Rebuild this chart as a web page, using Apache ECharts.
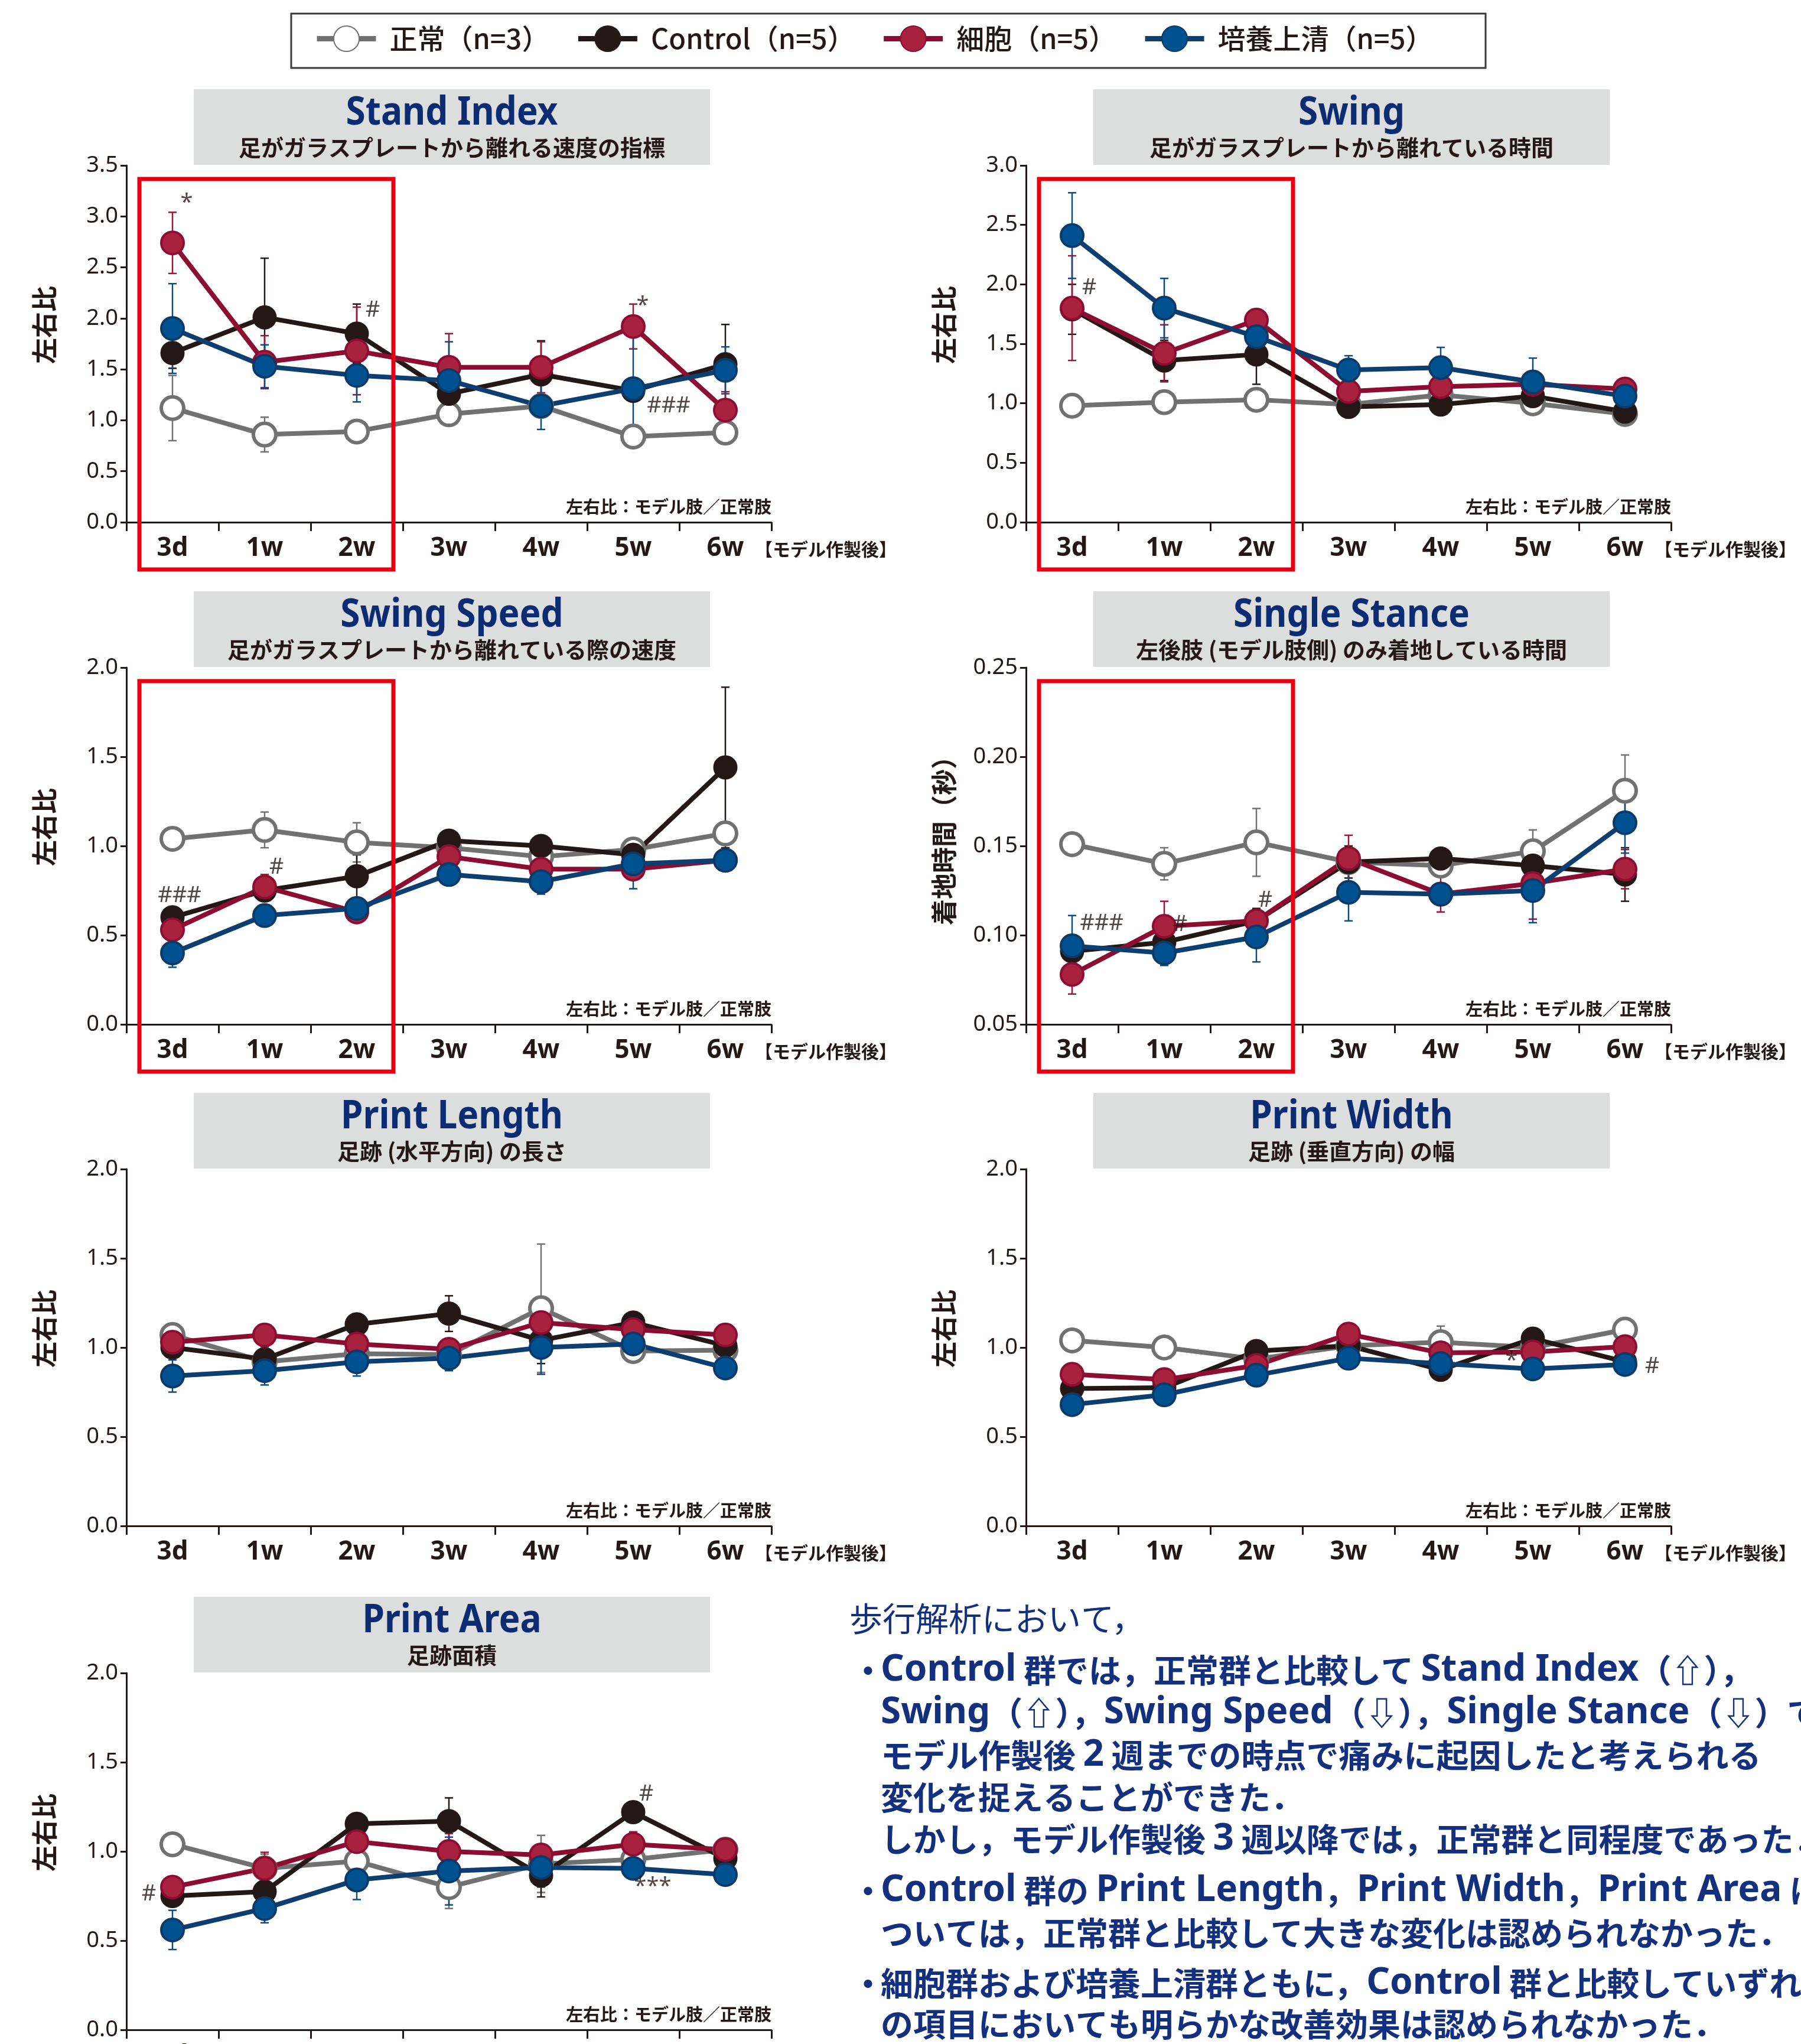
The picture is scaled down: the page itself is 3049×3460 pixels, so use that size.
<!DOCTYPE html>
<html><head><meta charset="utf-8">
<script src="https://cdn.jsdelivr.net/npm/echarts@6/dist/echarts.min.js"></script>
<style>html,body{margin:0;padding:0;background:#fff}#c{width:3049px;height:3460px}</style>
</head><body><div id="c"></div><script>
// ---------- data ----------
const categories = ['3d','1w','2w','3w','4w','5w','6w'];
const seriesNames = ['正常（n=3）','Control（n=5）','細胞（n=5）','培養上清（n=5）'];

// Stand Index
const siNormal = [1.12, 0.86, 0.89, 1.06, 1.14, 0.84, 0.88];
const siNormalSd = [0.32, 0.17, 0.03, 0.05, 0.03, 0.03, 0.03];
const siControl = [1.66, 2.01, 1.85, 1.26, 1.45, 1.29, 1.55];
const siControlSd = [0.15, 0.58, 0.29, 0.17, 0.33, 0.05, 0.39];
const siCell = [2.74, 1.57, 1.68, 1.52, 1.52, 1.92, 1.10];
const siCellSd = [0.30, 0.26, 0.43, 0.33, 0.25, 0.22, 0.18];
const siCulture = [1.90, 1.53, 1.44, 1.39, 1.14, 1.31, 1.49];
const siCultureSd = [0.44, 0.21, 0.26, 0.38, 0.23, 0.53, 0.23];
const siMarks = [[0, 3.13, '*'], [2, 2.08, '#'], [5, 2.12, '*'], [5, 1.14, '###']];

// Swing
const swNormal = [0.98, 1.01, 1.03, 0.99, 1.07, 1.00, 0.91];
const swNormalSd = [0.02, 0.05, 0.04, 0.02, 0.02, 0.09, 0.02];
const swControl = [1.79, 1.36, 1.41, 0.97, 0.99, 1.06, 0.93];
const swControlSd = [0.21, 0.17, 0.25, 0.03, 0.03, 0.05, 0.03];
const swCell = [1.80, 1.42, 1.70, 1.10, 1.14, 1.16, 1.12];
const swCellSd = [0.44, 0.24, 0.03, 0.03, 0.05, 0.03, 0.03];
const swCulture = [2.41, 1.80, 1.56, 1.28, 1.30, 1.18, 1.06];
const swCultureSd = [0.36, 0.25, 0.07, 0.12, 0.17, 0.20, 0.03];
const swMarks = [[0, 1.97, '#']];

// Swing Speed
const ssNormal = [1.04, 1.09, 1.02, 0.99, 0.94, 0.98, 1.07];
const ssNormalSd = [0.02, 0.10, 0.11, 0.02, 0.02, 0.05, 0.02];
const ssControl = [0.60, 0.75, 0.83, 1.03, 1.00, 0.95, 1.44];
const ssControlSd = [0.03, 0.06, 0.12, 0.05, 0.02, 0.07, 0.45];
const ssCell = [0.53, 0.77, 0.63, 0.94, 0.87, 0.87, 0.92];
const ssCellSd = [0.03, 0.07, 0.02, 0.02, 0.02, 0.03, 0.02];
const ssCulture = [0.40, 0.61, 0.65, 0.84, 0.80, 0.90, 0.92];
const ssCultureSd = [0.08, 0.06, 0.02, 0.03, 0.07, 0.14, 0.02];
const ssMarks = [[0, 0.72, '###'], [1, 0.88, '#']];

// Single Stance
const stNormal = [0.151, 0.140, 0.152, 0.141, 0.139, 0.147, 0.181];
const stNormalSd = [0.003, 0.009, 0.019, 0.002, 0.002, 0.012, 0.020];
const stControl = [0.091, 0.096, 0.108, 0.141, 0.143, 0.139, 0.134];
const stControlSd = [0.009, 0.008, 0.007, 0.009, 0.002, 0.002, 0.015];
const stCell = [0.078, 0.105, 0.108, 0.143, 0.123, 0.129, 0.137];
const stCellSd = [0.011, 0.014, 0.003, 0.013, 0.010, 0.020, 0.011];
const stCulture = [0.094, 0.090, 0.099, 0.124, 0.123, 0.125, 0.163];
const stCultureSd = [0.017, 0.007, 0.014, 0.016, 0.002, 0.018, 0.017];
const stMarks = [[0, 0.1065, '###'], [1, 0.1058, '#'], [2, 0.1194, '#']];

// Print Length
const plNormal = [1.07, 0.92, 0.965, 0.96, 1.22, 0.98, 0.985];
const plNormalSd = [0.02, 0.02, 0.02, 0.02, 0.36, 0.02, 0.02];
const plControl = [1.00, 0.935, 1.13, 1.19, 1.04, 1.14, 1.01];
const plControlSd = [0.02, 0.07, 0.03, 0.10, 0.13, 0.02, 0.02];
const plCell = [1.03, 1.07, 1.02, 0.99, 1.14, 1.10, 1.07];
const plCellSd = [0.03, 0.03, 0.08, 0.03, 0.03, 0.03, 0.03];
const plCulture = [0.84, 0.87, 0.92, 0.94, 1.00, 1.02, 0.885];
const plCultureSd = [0.09, 0.08, 0.08, 0.07, 0.15, 0.06, 0.02];
const plMarks = [];

// Print Width
const pwNormal = [1.04, 1.00, 0.935, 1.01, 1.03, 1.00, 1.10];
const pwNormalSd = [0.02, 0.02, 0.02, 0.02, 0.09, 0.02, 0.02];
const pwControl = [0.77, 0.775, 0.98, 1.01, 0.875, 1.05, 0.92];
const pwControlSd = [0.02, 0.02, 0.03, 0.02, 0.02, 0.02, 0.02];
const pwCell = [0.85, 0.82, 0.90, 1.075, 0.97, 0.975, 1.005];
const pwCellSd = [0.02, 0.04, 0.02, 0.02, 0.02, 0.02, 0.02];
const pwCulture = [0.68, 0.735, 0.845, 0.94, 0.91, 0.88, 0.905];
const pwCultureSd = [0.02, 0.02, 0.04, 0.02, 0.02, 0.02, 0.02];
const pwMarks = [[5, 0.924, '*'], [6, 0.894, '#']];

// Print Area
const paNormal = [1.04, 0.905, 0.945, 0.80, 0.93, 0.955, 1.01];
const paNormalSd = [0.02, 0.08, 0.02, 0.12, 0.16, 0.02, 0.02];
const paControl = [0.75, 0.775, 1.155, 1.17, 0.865, 1.22, 0.96];
const paControlSd = [0.04, 0.04, 0.05, 0.13, 0.12, 0.02, 0.02];
const paCell = [0.80, 0.905, 1.055, 1.00, 0.98, 1.04, 1.01];
const paCellSd = [0.02, 0.09, 0.16, 0.10, 0.03, 0.07, 0.02];
const paCulture = [0.56, 0.68, 0.84, 0.89, 0.91, 0.905, 0.87];
const paCultureSd = [0.11, 0.08, 0.11, 0.19, 0.11, 0.03, 0.02];
const paMarks = [[0, 0.76, '#'], [5, 1.32, '#'], [5, 0.80, '***']];

const noteLines = [
  '歩行解析において，',
  'Control 群では，正常群と比較して Stand Index（⇧），',
  'Swing（⇧），Swing Speed（⇩），Single Stance（⇩）で',
  'モデル作製後 2 週までの時点で痛みに起因したと考えられる',
  '変化を捉えることができた．',
  'しかし，モデル作製後 3 週以降では，正常群と同程度であった．',
  'Control 群の Print Length，Print Width，Print Area に',
  'ついては，正常群と比較して大きな変化は認められなかった．',
  '細胞群および培養上清群ともに，Control 群と比較していずれ',
  'の項目においても明らかな改善効果は認められなかった．'
];
const bulletLines = [1, 6, 8];

// ---------- layout / style ----------
const FONT = "'Noto Sans CJK JP','Noto Sans',sans-serif";
const NUMFONT = "'Noto Sans','Noto Sans CJK JP',sans-serif";
const INK = '#231815';
const NAVY = '#0b2c72';
const TEXTBLUE = '#13307f';
const colLeft = [214, 1737];
const rowTop = [280, 1130, 1979, 2832];
const GW = 1092, GH = 604;

const panels = [
  {title:'Stand Index', sub:'足がガラスプレートから離れる速度の指標', yName:'左右比', min:0, max:3.5, interval:0.5, dec:1,
   vals:[siNormal, siControl, siCell, siCulture], sds:[siNormalSd, siControlSd, siCellSd, siCultureSd], marks:siMarks, markDx:[24, 27, 16, 60], box:true},
  {title:'Swing', sub:'足がガラスプレートから離れている時間', yName:'左右比', min:0, max:3.0, interval:0.5, dec:1,
   vals:[swNormal, swControl, swCell, swCulture], sds:[swNormalSd, swControlSd, swCellSd, swCultureSd], marks:swMarks, markDx:[29], box:true},
  {title:'Swing Speed', sub:'足がガラスプレートから離れている際の速度', yName:'左右比', min:0, max:2.0, interval:0.5, dec:1,
   vals:[ssNormal, ssControl, ssCell, ssCulture], sds:[ssNormalSd, ssControlSd, ssCellSd, ssCultureSd], marks:ssMarks, markDx:[12, 20], box:true},
  {title:'Single Stance', sub:'左後肢 (モデル肢側) のみ着地している時間', yName:'着地時間（秒）', min:0.05, max:0.25, interval:0.05, dec:2,
   vals:[stNormal, stControl, stCell, stCulture], sds:[stNormalSd, stControlSd, stCellSd, stCultureSd], marks:stMarks, markDx:[50, 27, 15], box:true},
  {title:'Print Length', sub:'足跡 (水平方向) の長さ', yName:'左右比', min:0, max:2.0, interval:0.5, dec:1,
   vals:[plNormal, plControl, plCell, plCulture], sds:[plNormalSd, plControlSd, plCellSd, plCultureSd], marks:plMarks, markDx:[], box:false},
  {title:'Print Width', sub:'足跡 (垂直方向) の幅', yName:'左右比', min:0, max:2.0, interval:0.5, dec:1,
   vals:[pwNormal, pwControl, pwCell, pwCulture], sds:[pwNormalSd, pwControlSd, pwCellSd, pwCultureSd], marks:pwMarks, markDx:[-36, 46], box:false},
  {title:'Print Area', sub:'足跡面積', yName:'左右比', min:0, max:2.0, interval:0.5, dec:1,
   vals:[paNormal, paControl, paCell, paCulture], sds:[paNormalSd, paControlSd, paCellSd, paCultureSd], marks:paMarks, markDx:[-40, 22, 33], box:false}
];

const STY = [
  {line:'#727171', fill:'#ffffff', border:'#727171', bw:6, err:'#727171'},
  {line:'#231815', fill:'#231815', border:'#231815', bw:3, err:'#231815'},
  {line:'#8c0c32', fill:'#a8213f', border:'#8c0c32', bw:4, err:'#9b1537'},
  {line:'#0c3e70', fill:'#00518f', border:'#0c3a68', bw:4, err:'#0c4a80'}
];

function makeErr(color) {
  return function (params, api) {
    const x = api.value(0);
    const lo = api.coord([x, api.value(1)]);
    const hi = api.coord([x, api.value(2)]);
    const c = 7;
    const st = {stroke: color, lineWidth: 2.5};
    return {type:'group', children:[
      {type:'line', shape:{x1:lo[0], y1:lo[1], x2:hi[0], y2:hi[1]}, style:st},
      {type:'line', shape:{x1:hi[0]-c, y1:hi[1], x2:hi[0]+c, y2:hi[1]}, style:st},
      {type:'line', shape:{x1:lo[0]-c, y1:lo[1], x2:lo[0]+c, y2:lo[1]}, style:st}
    ]};
  };
}

const grids = [], xAxes = [], yAxes = [], series = [];
panels.forEach((p, k) => {
  const left = colLeft[k % 2], top = rowTop[Math.floor(k / 2)];
  grids.push({left, top, width: GW, height: GH, containLabel: false, outerBoundsMode: 'none'});
  xAxes.push({gridIndex:k, type:'category', data:categories, boundaryGap:true,
    axisLine:{lineStyle:{color:INK, width:3}},
    axisTick:{show:true, length:15, lineStyle:{color:INK, width:3}},
    axisLabel:{fontSize:44, fontWeight:'bold', color:INK, margin:22, fontFamily:NUMFONT},
    splitLine:{show:false}});
  yAxes.push({gridIndex:k, type:'value', min:p.min, max:p.max, interval:p.interval,
    axisLine:{show:true, lineStyle:{color:INK, width:3}},
    axisTick:{show:true, length:10, lineStyle:{color:INK, width:3}},
    axisLabel:{fontSize:38, color:INK, margin:14, fontFamily:NUMFONT, formatter:v => v.toFixed(p.dec)},
    splitLine:{show:false}});
  p.vals.forEach((vals, s) => {
    const sd = p.sds[s];
    series.push({type:'custom', name:'err'+k+'_'+s, xAxisIndex:k, yAxisIndex:k, z:2, silent:true,
      renderItem: makeErr(STY[s].err), encode:{x:0, y:[1,2]},
      data: vals.map((v, i) => [i, v - sd[i], v + sd[i]])});
  });
  p.vals.forEach((vals, s) => {
    series.push({type:'line', name:seriesNames[s], xAxisIndex:k, yAxisIndex:k, z:3, data:vals,
      symbol:'circle', symbolSize:38, showAllSymbol:true,
      lineStyle:{width:8, color:STY[s].line},
      itemStyle:{color:STY[s].fill, borderColor:STY[s].border, borderWidth:STY[s].bw},
      emphasis:{disabled:true}});
  });
  series.push({type:'scatter', name:'marks'+k, xAxisIndex:k, yAxisIndex:k, z:4, silent:true,
    symbolSize:0.01, itemStyle:{color:'rgba(0,0,0,0)'},
    data: p.marks.map((m, i) => ({value:[m[0], m[1]],
      label:{show:true, formatter:m[2], offset:[p.markDx[i], 0], color:INK, fontSize:38, fontFamily:NUMFONT}})),
    label:{show:true, position:'inside', fontSize:38, color:INK, fontFamily:NUMFONT}});
});

const chart = echarts.init(document.getElementById('c'));
chart.setOption({
  animation:false,
  backgroundColor:'#ffffff',
  grid:grids, xAxis:xAxes, yAxis:yAxes, series:series,
  legend:{data:seriesNames, left:532, top:42, itemWidth:100, itemHeight:54, itemGap:44, padding:0,
    selectedMode:false,
    lineStyle:{width:9},
    textStyle:{fontSize:47, fontWeight:500, color:INK, fontFamily:FONT, padding:[0,0,0,18]}}
});

// ---------- decorations ----------
const graphic = [];
graphic.push({type:'rect', shape:{x:493, y:23, width:2022, height:92}, style:{fill:'none', stroke:'#3e3a39', lineWidth:3}, z:1});
panels.forEach((p, k) => {
  const left = colLeft[k % 2], top = rowTop[Math.floor(k / 2)];
  const bx = left + 114;
  graphic.push({type:'rect', shape:{x:bx, y:top - 129, width:874, height:128}, style:{fill:'#dcdddd'}, z:0});
  graphic.push({type:'text', x:bx + 437, y:top - 88, scaleX:0.9, z:5,
    style:{text:p.title, fontSize:67, fontWeight:'bold', fill:NAVY, fontFamily:NUMFONT, align:'center', verticalAlign:'middle'}});
  graphic.push({type:'text', x:bx + 437, y:top - 30, z:5,
    style:{text:p.sub, fontSize:38, fontWeight:'bold', fill:INK, fontFamily:FONT, align:'center', verticalAlign:'middle'}});
  graphic.push({type:'text', x:left - 139, y:top + (k === 3 ? 282 : 270), rotation:Math.PI / 2, z:5,
    style:{text:p.yName, fontSize:44, fontWeight:'bold', fill:INK, fontFamily:FONT, align:'center', verticalAlign:'middle'}});
  graphic.push({type:'text', x:left + GW, y:top + GH - 26, z:5,
    style:{text:'左右比：モデル肢／正常肢', fontSize:29, fontWeight:'bold', fill:INK, fontFamily:FONT, align:'right', verticalAlign:'middle'}});
  graphic.push({type:'text', x:left + GW - 28, y:top + GH + 46, z:5,
    style:{text:'【モデル作製後】', fontSize:30, fontWeight:'bold', fill:INK, fontFamily:FONT, align:'left', verticalAlign:'middle'}});
  if (p.box) {
    const x1 = chart.convertToPixel({xAxisIndex:k}, categories[0]) - 56;
    const x2 = chart.convertToPixel({xAxisIndex:k}, categories[2]) + 62;
    graphic.push({type:'rect', shape:{x:x1, y:top + 23, width:x2 - x1, height:GH + 80 - 23},
      style:{fill:'none', stroke:'#e60012', lineWidth:7}, z:6});
  }
});
const lineY = [2740, 2827, 2899, 2971, 3042, 3113, 3200, 3272, 3357, 3426];
function richify(t) {
  return t.replace(/([A-Za-z0-9](?:[A-Za-z0-9 ]*[A-Za-z0-9])?)/g, '{l|$1}');
}
noteLines.forEach((t, i) => {
  const isFirst = i === 0;
  graphic.push({type:'text', x: isFirst ? 1438 : 1491, y: lineY[i], z:5,
    style:{text: isFirst ? t : richify(t), fontSize: isFirst ? 56 : 55, fontWeight: isFirst ? 'normal' : 'bold',
      fill:TEXTBLUE, fontFamily:FONT, align:'left', verticalAlign:'middle',
      rich:{l:{fontSize:62, fontWeight:'bold', fontFamily:NUMFONT, fill:TEXTBLUE, color:TEXTBLUE}}}});
});
bulletLines.forEach(i => {
  graphic.push({type:'text', x:1442, y:lineY[i], z:5,
    style:{text:'・', fontSize:55, fontWeight:'bold', fill:TEXTBLUE, fontFamily:FONT, align:'left', verticalAlign:'middle'}});
});
chart.setOption({graphic: graphic});
</script></body></html>
